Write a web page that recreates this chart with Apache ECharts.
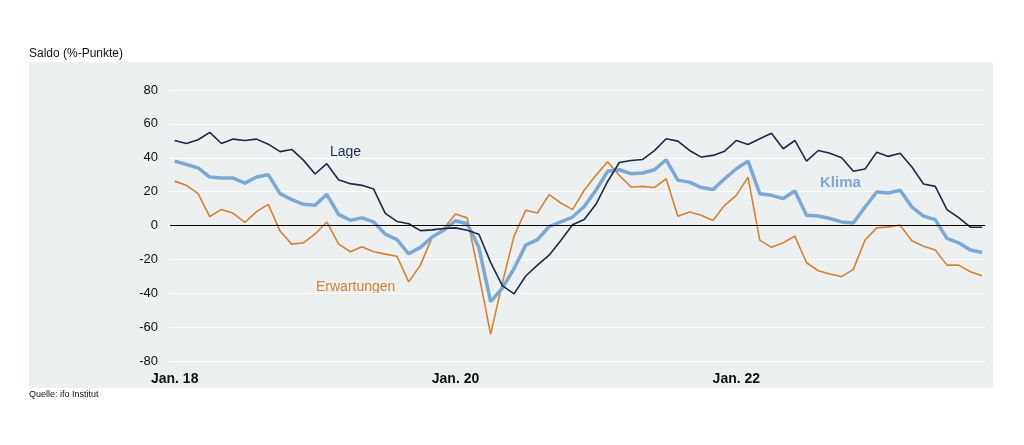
<!DOCTYPE html>
<html><head><meta charset="utf-8">
<script src="https://cdn.jsdelivr.net/npm/echarts@6/dist/echarts.min.js"></script>
<style>html,body{margin:0;padding:0;background:#fff}#c{width:1024px;height:445px}</style>
</head><body><div id="c"></div>
<script>
// Monthly, Jan 2018 .. Oct 2023
const startYear = 2018;
const lage = [50.2,48.4,50.6,55,48.4,51,50.2,51,48,43.6,44.9,38.6,30.4,36.5,27,24.7,23.7,21.5,7.2,2.4,1,-3,-2.6,-1.8,-1.4,-2.8,-5.2,-21.8,-35.5,-40.4,-29.8,-23.4,-17.5,-8.8,0.4,3.5,12.5,26,37.2,38.4,39,44.2,51.2,49.8,44.3,40.4,41.4,43.9,50.2,47.8,51.2,54.5,45.3,50.2,38,44.3,42.7,40,32,33.4,43.3,40.8,42.7,34.5,24.5,23.1,9.4,4.7,-1,-1];
const klima = [38,36,34,28.6,28,28,25,28.6,30,18.8,15.3,12.5,12,18.4,6.6,3.1,4.5,2.1,-5.1,-8.3,-16.7,-12.9,-6.8,-2.8,2.8,1,-13,-45,-37,-25.5,-11.6,-8.3,-0.6,2.1,5,11.2,20.8,32,32.9,30.6,31,32.9,38.8,26.8,25.6,22.4,21.2,27.6,33.5,38,18.8,17.8,15.9,20.4,6,5.6,4.1,2.1,1.5,10.9,19.8,19.2,20.8,10.9,5.5,3.5,-7.6,-10.2,-14.5,-15.9];
const erwartungen = [26.2,23.7,18.8,5.3,9.5,7.2,1.9,8.2,12.5,-3.2,-11,-10.2,-5,2.1,-10.8,-15.5,-12.6,-15.5,-16.9,-18.2,-33.3,-23.4,-7,-1.8,6.8,4.5,-29,-64.3,-34,-6.3,9,7.4,18.2,13.3,9.4,20.8,29.6,37.6,29.6,22.7,23.1,22.4,27.6,5.5,8,6,3,11.9,17.8,28.6,-8.6,-12.9,-10.2,-6.3,-22,-26.7,-28.6,-30.2,-25.9,-8.6,-1.4,-0.8,0.2,-9,-12.2,-14.5,-23.4,-23.4,-27.3,-29.6];
const xTickIdx = [0,24,48];
const xTickLabels = ['Jan. 18','Jan. 20','Jan. 22'];
const yTicks = [-80,-60,-40,-20,0,20,40,60,80];

const pairs = arr => arr.map((v,i)=>[i,v]);
const chart = echarts.init(document.getElementById('c'), null, {renderer:'canvas'});
const font = 'Liberation Sans, Arial, sans-serif';
chart.setOption({
  animation:false,
  backgroundColor:'#ffffff',
  graphic:[
    {type:'rect', z:-10, shape:{x:29,y:62,width:964,height:326}, style:{fill:'#edf0f1'}},
    {type:'text', left:29, top:48, style:{text:'Saldo (%-Punkte)', font:'12px '+font, fill:'#111'}},
    {type:'text', left:29, top:390, style:{text:'Quelle: ifo Institut', font:'9px '+font, fill:'#111'}},
    {type:'text', left:330, top:145, style:{text:'Lage', font:'14px '+font, fill:'#1b2a4a'}},
    {type:'text', left:820, top:175, style:{text:'Klima', font:'bold 15px '+font, fill:'#7aa9d6'}},
    {type:'text', left:316, top:280, style:{text:'Erwartungen', font:'14px '+font, fill:'#d4822f'}}
  ],
  grid:{left:170, right:39, top:90, bottom:84, containLabel:false},
  xAxis:{
    type:'value', min:-0.4, max:69.25,
    axisLine:{show:false}, axisTick:{show:false}, splitLine:{show:false},
    axisLabel:{
      customValues:xTickIdx, margin:11,
      formatter:v=>{const k=xTickIdx.indexOf(Math.round(v));return k>=0?xTickLabels[k]:'';},
      fontFamily:font, fontSize:14, fontWeight:'bold', color:'#111'
    }
  },
  yAxis:{
    type:'value', min:-80, max:80, interval:20,
    axisLine:{show:false}, axisTick:{show:false},
    splitLine:{show:true, lineStyle:{color:'#ffffff', width:1}},
    axisLabel:{margin:12, fontFamily:font, fontSize:13, color:'#111',
      customValues:yTicks}
  },
  series:[
    {type:'line', name:'Erwartungen', data:pairs(erwartungen), showSymbol:false,
     lineStyle:{color:'#d4822f', width:1.6}, z:2,
     markLine:{silent:true, symbol:'none', label:{show:false},
       lineStyle:{color:'#000', width:1, type:'solid'}, data:[{yAxis:0}]}},
    {type:'line', name:'Klima', data:pairs(klima), showSymbol:false,
     lineStyle:{color:'#7aa9d6', width:3.5}, z:3},
    {type:'line', name:'Lage', data:pairs(lage), showSymbol:false,
     lineStyle:{color:'#1b2a4a', width:1.6}, z:4}
  ]
});
</script></body></html>
